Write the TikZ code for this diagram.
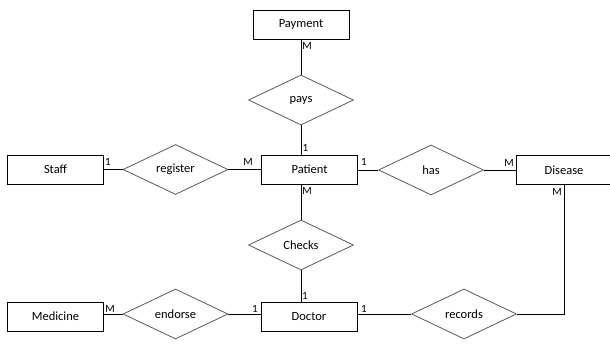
\documentclass[tikz,border=0pt]{standalone}
\usepackage{fontspec}
\setmainfont{Carlito}
\usetikzlibrary{shapes.geometric, positioning}

\tikzset{
    entity/.style = {draw, thick, minimum width = 96pt, minimum height = 29pt, inner sep = 0pt, font = \fontsize{12.5}{14}\selectfont},
    relation/.style = {draw = black!65, thick, shape = diamond, minimum width = 105pt, minimum height = 50pt, inner sep = 0pt, font = \fontsize{12.5}{14}\selectfont},
    card/.style = {inner sep = 0pt, font = \fontsize{11}{13}\selectfont},
    link/.style = {thick}
}

\begin{document}
\begin{tikzpicture}[x = 1pt, y = -1pt]
    \useasboundingbox (0,0) rectangle (610,352);

    % entities
    \node[entity] (payment) at (301,24.5) {Payment};
    \node[entity] (staff) at (55.5,169.5) {Staff};
    \node[entity] (patient) at (309.5,169.5) {Patient};
    \node[entity] (disease) at (564,170) {Disease};
    \node[entity] (medicine) at (55.5,316.5) {Medicine};
    \node[entity] (doctor) at (309,316.5) {Doctor};

    % relations
    \node[relation] (pays) at (301,100) {pays};
    \node[relation] (register) at (175.5,169.5) {register};
    \node[relation] (has) at (431,170) {has};
    \node[relation] (checks) at (301,245) {Checks};
    \node[relation] (endorse) at (175.5,314) {endorse};
    \node[relation] (records) at (464,314) {records};

    % connections
    \draw[link] (payment.south) -- (pays.north);
    \draw[link] (pays.south) -- (pays.south |- patient.north);
    \draw[link] (staff.east) -- (register.west);
    \draw[link] (register.east) -- (patient.west);
    \draw[link] (has.west -| patient.east) -- (has.west);
    \draw[link] (has.east) -- (disease.west);
    \draw[link] (checks.north |- patient.south) -- (checks.north);
    \draw[link] (checks.south) -- (checks.south |- doctor.north);
    \draw[link] (endorse.west -| medicine.east) -- (endorse.west);
    \draw[link] (endorse.east) -- (endorse.east -| doctor.west);
    \draw[link] (records.west -| doctor.east) -- (records.west);
    \draw[link] (records.east) -- (records.east -| disease.south) -- (disease.south);

    % cardinalities
    \node[card] (c1) at (307,46) {M};
    \node[card] (c2) at (305.5,148) {1};
    \node[card] (c3) at (108,161.5) {1};
    \node[card] (c4) at (248,161.5) {M};
    \node[card] (c5) at (364,161.5) {1};
    \node[card] (c6) at (509,162.5) {M};
    \node[card] (c7) at (307,191) {M};
    \node[card] (c8) at (557,192) {M};
    \node[card] (c9) at (305,296) {1};
    \node[card] (c10) at (110,308.5) {M};
    \node[card] (c11) at (255,308.5) {1};
    \node[card] (c12) at (364,308.5) {1};
\end{tikzpicture}
\end{document}
